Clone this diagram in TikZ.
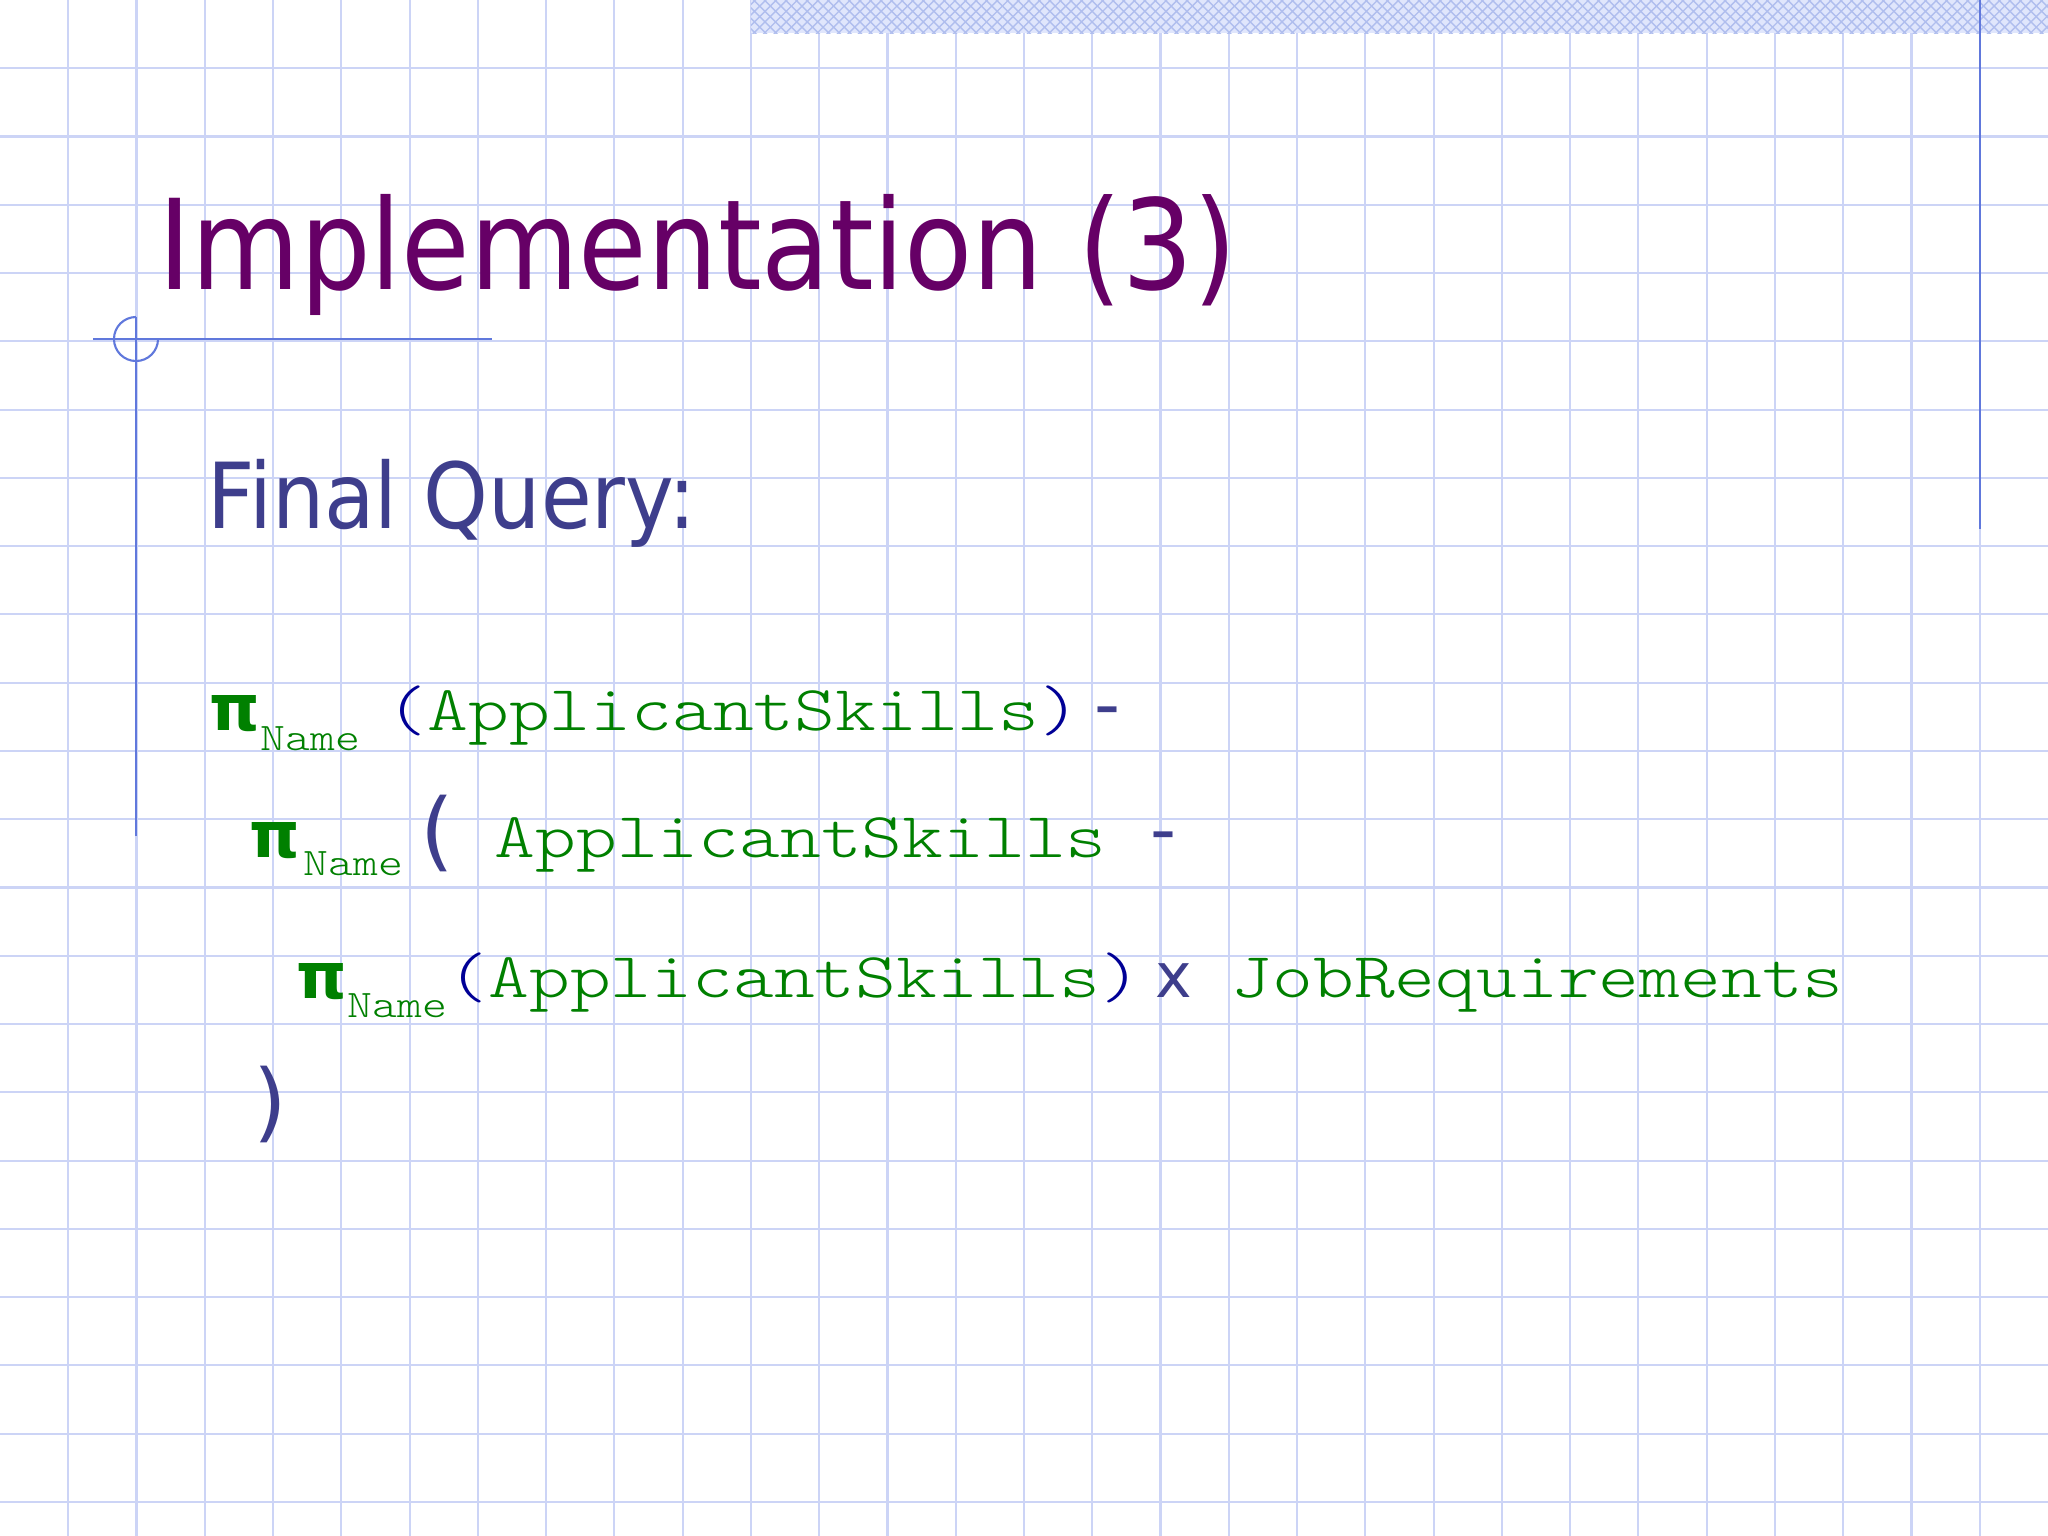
\documentclass[tikz,border=0pt]{standalone}
\usepackage{fontspec}
\usepackage{tikz}
\usetikzlibrary{patterns}
\usepackage{xcolor}

\newfontfamily\titlefont[FakeStretch=0.89]{DejaVu Sans}
\newfontfamily\queryfont[FakeStretch=0.905]{DejaVu Sans}
\newfontfamily\symfont{DejaVu Sans}
\newfontfamily\codefont[FakeStretch=1.214]{Latin Modern Mono Light}

\definecolor{titlepurple}{RGB}{102,0,102}
\definecolor{slate}{RGB}{62,62,140}
\definecolor{codegreen}{RGB}{0,128,0}
\definecolor{navyblue}{RGB}{0,0,150}
\definecolor{gridblue}{RGB}{204,212,246}
\definecolor{lineblue}{RGB}{96,120,220}
\definecolor{bandblue}{RGB}{224,230,252}
\definecolor{bandhatch}{RGB}{176,190,238}

\begin{document}
\begin{tikzpicture}[x=0.01cm,y=-0.01cm,
	txt/.style={anchor=base west,inner sep=0pt},
	gridline/.style={gridblue,line width=0.6pt},
	rule/.style={lineblue,line width=0.6pt},
	code/.style={txt,text=codegreen,font=\codefont\fontsize{18.2}{20}\selectfont},
	sub/.style={txt,text=codegreen,font=\codefont\fontsize{11.1}{13}\selectfont},
	proj/.style={txt,text=codegreen,font=\symfont\bfseries\fontsize{18.2}{20}\selectfont},
	op/.style={txt,text=slate,font=\symfont\fontsize{20.5}{22}\selectfont},
	bigparen/.style={txt,text=slate,font=\symfont\fontsize{24.5}{28}\selectfont}]
		\useasboundingbox[fill=white] (0,0) rectangle (2048,1536);
		\foreach \i in {1,...,29}
			\draw[gridline] ({\i*68.267},0) -- ({\i*68.267},1536);
		\foreach \j in {1,...,22}
			\draw[gridline] (0,{\j*68.267}) -- (2048,{\j*68.267});
		
		\fill[bandblue] (751,0) rectangle (2048,33);
		\fill[pattern=crosshatch,pattern color=bandhatch] (751,0) rectangle (2048,33);
		
		\draw[rule] (93,339) -- (492,339);
		\draw[rule] (136,317) -- (136,836);
		\draw[rule] (136,317) arc[start angle=90,end angle=360,radius=0.22cm];
		\draw[rule] (1980,0) -- (1980,529);
		
		\node[txt,text=titlepurple,font=\titlefont\fontsize{35.6}{40}\selectfont] 
		(title) at (158,289) {Implementation (3)};
		\node[txt,text=slate,font=\queryfont\fontsize{25.9}{30}\selectfont] 
		(query) at (207,528) {Final Query:};
		
		\node[proj] (pia) at (209,730) {π};
		\node[sub] (suba) at (260,750) {Name};
		\node[code] (rela) at (386,730) 
		{{\color{navyblue}(}ApplicantSkills{\color{navyblue})}};
		\node[op] (minusa) at (1094,729) {-};
		
		\node[proj] (pib) at (249,857) {π};
		\node[sub] (subb) at (303,875) {Name};
		\node[bigparen] (lparen) at (420,860) {(};
		\node[code] (relb) at (494,857) {ApplicantSkills};
		\node[op] (minusb) at (1150,854) {-};
		
		\node[proj] (pic) at (296,998) {π};
		\node[sub] (subc) at (347,1017) {Name};
		\node[code] (relc) at (447,997) 
		{{\color{navyblue}(}ApplicantSkills{\color{navyblue})}};
		\node[txt,text=slate,font=\symfont\fontsize{17.6}{20}\selectfont] 
		(cross) at (1155,997) {x};
		\node[code] (jobreq) at (1231,997) {JobRequirements};
		
		\node[bigparen] (rparen) at (253,1131) {)};
\end{tikzpicture}
\end{document}
